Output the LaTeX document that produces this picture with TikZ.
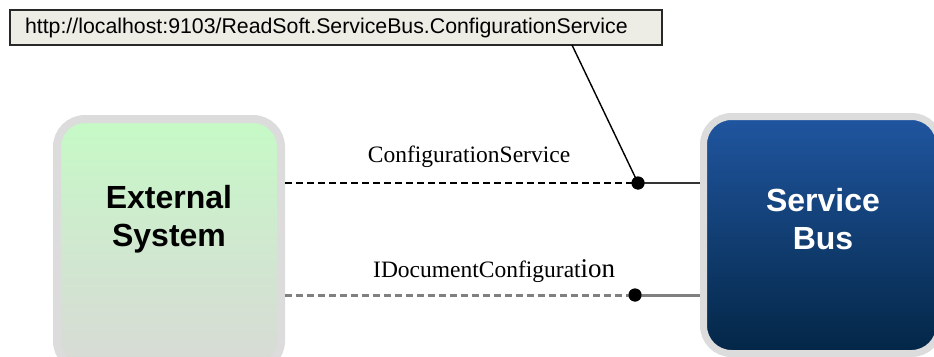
\documentclass[tikz,border=0pt]{standalone}
\usepackage{fontspec}
\setmainfont{Liberation Serif}
\newfontfamily\arialfont{Liberation Sans}

\definecolor{urlfill}{RGB}{238,237,229}
\definecolor{urlframe}{RGB}{40,40,40}
\definecolor{boxframe}{RGB}{220,220,220}
\definecolor{extTop}{RGB}{198,250,198}
\definecolor{extBot}{RGB}{216,218,214}
\definecolor{busTop}{RGB}{32,86,160}
\definecolor{busBot}{RGB}{3,38,70}
\definecolor{wireGray}{RGB}{128,128,128}

\tikzset{
  sysbox/.style={draw=boxframe, rounded corners=28pt, inner sep=0pt},
  systext/.style={font=\arialfont\bfseries\fontsize{32}{38}\selectfont, align=center, inner sep=0pt},
  urlbox/.style={draw=urlframe, line width=1.5pt, fill=urlfill, text width=622pt,
                 align=left, inner xsep=15pt, minimum height=35pt,
                 font=\arialfont\fontsize{21.3}{24}\selectfont},
  conlabel/.style={font=\fontsize{23.5}{26}\selectfont, inner sep=0pt},
  joint/.style={circle, fill=black, minimum size=13pt, inner sep=0pt},
  dashwire/.style={dash pattern=on 7pt off 4pt},
}

\begin{document}
\begin{tikzpicture}[x=1pt,y=-1pt]
\useasboundingbox (0,0) rectangle (934,356);
\clip (0,0) rectangle (934,356);

% the two systems
\node[sysbox, line width=8pt, minimum width=224pt, minimum height=250pt,
      top color=extTop, bottom color=extBot, middle color=extTop!45!extBot] (ext) at (169,244) {};
\node[sysbox, line width=7pt, minimum width=236pt, minimum height=237pt,
      top color=busTop, bottom color=busBot] (bus) at (821.5,235) {};

\node[systext, text=black] (exttext) at (169,219) {External\\System};
\node[systext, text=white] (bustext) at (823,219) {Service\\Bus};

% endpoint address
\node[urlbox] (url) at (336,27.5) {http://localhost:9103/ReadSoft.ServiceBus.ConfigurationService};
\coordinate (tap) at (572,45);

% endpoints
\node[joint] (d1) at (638,183) {};
\node[joint] (d2) at (635,295) {};

% connectors
\draw[dashwire, line width=1.6pt, black] (ext.east |- d1) -- (d1.center);
\draw[line width=2pt, black!80] (d1.center) -- (bus.west |- d1);
\draw[dashwire, line width=3pt, wireGray] (ext.east |- d2) -- (d2.center);
\draw[line width=3pt, wireGray] (d2.center) -- (bus.west |- d2);
\draw[line width=1.4pt, black] (tap) -- (d1.center);
\node[joint] at (d1) {};
\node[joint] at (d2) {};

% interface labels
\node[conlabel] (l1) at (469,157) {ConfigurationService};
\node[conlabel, anchor=base west] (l2) at (373,277) {IDocumentConfigurat{\fontsize{27}{30}\selectfont ion}};
\end{tikzpicture}
\end{document}
